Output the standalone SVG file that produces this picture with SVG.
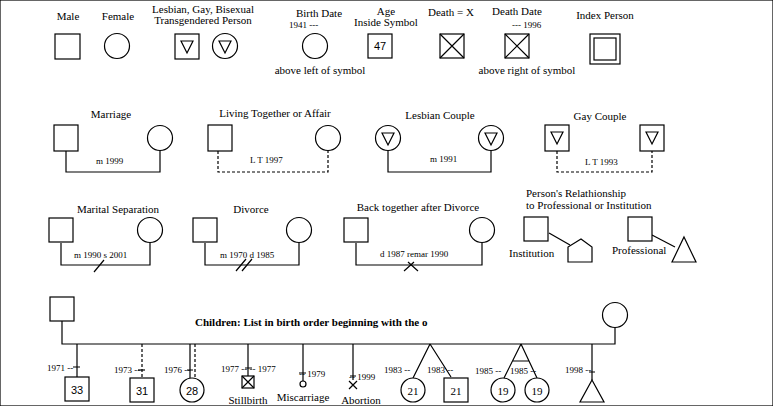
<svg xmlns="http://www.w3.org/2000/svg" width="773" height="406" viewBox="0 0 773 406">
<style>
text{font-family:"Liberation Serif","Times New Roman","DejaVu Serif",serif;font-size:11px;fill:#000}
.s{font-size:9px}
.b{font-weight:bold}
.c{text-anchor:middle}
rect,circle,polygon,path,line{fill:#fff;stroke:#000;stroke-width:1.2}
.d{stroke-dasharray:3,2;fill:none}
.n{fill:none}
</style>
<rect width="773" height="406" fill="#fff" stroke="none"/>
<g id="legend">
<g id="male"><text x="68" y="20" class="c">Male</text><rect x="55" y="34" width="25" height="25"/></g>
<g id="female"><text x="118" y="20" class="c">Female</text><circle cx="117" cy="46" r="12.5"/></g>
<g id="lgbt"><text x="203" y="13" class="c">Lesbian, Gay, Bisexual</text><text x="203" y="24" class="c">Transgendered Person</text>
<rect x="175" y="34" width="24" height="25"/><polygon points="181,41 193,41 187,53"/>
<circle cx="225" cy="46" r="12.5"/><polygon points="219,41 231,41 225,53"/></g>
<g id="birth"><text x="319" y="17" class="c">Birth Date</text><text x="289" y="28" class="s">1941 ---</text><circle cx="315" cy="46" r="12.5"/><text x="320" y="74" class="c">above left of symbol</text></g>
<g id="age"><text x="386" y="15" class="c">Age</text><text x="386" y="26" class="c">Inside Symbol</text><rect x="368" y="34" width="24" height="24"/><text x="380" y="50" class="c" style="font-family:'Liberation Sans',sans-serif;font-size:11px">47</text></g>
<g id="death"><text x="451" y="16" class="c">Death = X</text><rect x="440" y="34" width="24" height="24"/><path class="n" d="M440 34L464 58M464 34L440 58"/></g>
<g id="deathdate"><text x="517" y="15" class="c">Death Date</text><text x="512" y="28" class="s">--- 1996</text><rect x="505" y="34" width="24" height="24"/><path class="n" d="M505 34L529 58M529 34L505 58"/><text x="527" y="74" class="c">above right of symbol</text></g>
<g id="index"><text x="605" y="19" class="c">Index Person</text><rect x="590" y="34" width="30" height="30"/><rect x="594" y="38" width="22" height="22"/></g>
</g>
<g id="connectors">
<path class="n" d="M66 151V172H160V151"/>
<path class="d" d="M218 151V172H328V151"/>
<path class="n" d="M388 151V172H491V151"/>
<path class="d" d="M557 151V172H652V151"/>
<path class="n" d="M61 243V265H150V243"/>
<path class="n" d="M94 272L104 260"/>
<path class="n" d="M205 243V265H299V243"/>
<path class="n" d="M236 271L246 259M242 271L252 259"/>
<path class="n" d="M356 243V265H482V243"/>
<path class="n" d="M404 271L414 262M408 262L418 271"/>
<path class="n" d="M549 233L570 245"/>
<path class="n" d="M652 235L675 247"/>
<path class="n" d="M62 320V344H615V328"/>
<path class="n" d="M77 344V377M73 367H80"/>
<path class="d" d="M142 344V378"/><path class="n" d="M138 370H145"/>
<path class="n" d="M190 344V378M187 370H193"/><path class="d" d="M195 344V378"/>
<path class="n" d="M248 344V376M245 368H252"/>
<path class="n" d="M303 344V381M299 373H306"/>
<path class="n" d="M353 344V380M350 376H356"/>
<path class="n" d="M430 344L413 378M430 344L451 377"/>
<path class="n" d="M521 344L504 378M521 344L537 378M513 361H529"/>
<path class="n" d="M592 344V380M589 372H595"/>
</g>
<g id="marriage"><text x="111" y="118" class="c">Marriage</text><rect x="54" y="125" width="24" height="26"/><circle cx="160" cy="138" r="12.5"/><text x="96" y="164" class="s">m 1999</text></g>
<g id="lt"><text x="275" y="117" class="c">Living Together or Affair</text><rect x="208" y="125" width="24" height="26"/><circle cx="328" cy="138" r="12.5"/><text x="250" y="163" class="s">L T 1997</text></g>
<g id="lesbian"><text x="440" y="119" class="c">Lesbian Couple</text><circle cx="388" cy="138" r="12.5"/><polygon points="382,133 394,133 388,145"/><circle cx="491" cy="138" r="12.5"/><polygon points="485,133 497,133 491,145"/><text x="430" y="162" class="s">m 1991</text></g>
<g id="gay"><text x="600" y="120" class="c">Gay Couple</text><rect x="545" y="125" width="24" height="26"/><polygon points="551,132 563,132 557,144"/><rect x="640" y="125" width="24" height="26"/><polygon points="646,132 658,132 652,144"/><text x="585" y="165" class="s">L T 1993</text></g>
<g id="separation"><text x="118" y="213" class="c">Marital Separation</text><rect x="49" y="218" width="24" height="24"/><circle cx="150" cy="230" r="12.5"/><text x="74" y="258" class="s">m 1990 s 2001</text></g>
<g id="divorce"><text x="251" y="213" class="c">Divorce</text><rect x="193" y="218" width="24" height="24"/><circle cx="299" cy="230" r="12.5"/><text x="220" y="258" class="s">m 1970 d 1985</text></g>
<g id="backtogether"><text x="418" y="211" class="c">Back together after Divorce</text><rect x="344" y="218" width="24" height="24"/><circle cx="482" cy="230" r="12.5"/><text x="380" y="257" class="s">d 1987 remar 1990</text></g>
<g id="institution"><text x="526" y="197">Person's Relathionship</text><text x="526" y="209">to Professional or Institution</text><rect x="524" y="217" width="24" height="24"/><polygon points="581,239 592,247 592,262 568,262 568,247"/><text x="509" y="257">Institution</text></g>
<g id="professional"><rect x="628" y="217" width="24" height="24"/><polygon points="684,237 696,262 672,262"/><text x="612" y="254">Professional</text></g>
<g id="parents"><rect x="50" y="297" width="24" height="24"/><circle cx="615" cy="315" r="12.5"/><text x="195" y="326" class="b">Children: List in birth order beginning with the o</text></g>
<g id="children">
<text x="47" y="371" class="s">1971 --</text><rect x="65" y="377" width="24" height="24"/><text x="77" y="394" class="c" style="font-family:'Liberation Sans',sans-serif">33</text>
<text x="114" y="373" class="s">1973 --</text><rect x="130" y="378" width="24" height="24"/><text x="142" y="395" class="c" style="font-family:'Liberation Sans',sans-serif">31</text>
<text x="164" y="373" class="s">1976 --</text><circle cx="192" cy="390" r="12"/><text x="192" y="395" class="c" style="font-family:'Liberation Sans',sans-serif">28</text>
<text x="221" y="372" class="s">1977 --  -- 1977</text><rect x="242" y="376" width="12" height="12"/><path class="n" d="M242 376L254 388M254 376L242 388"/><text x="248" y="404" class="c">Stillbirth</text>
<text x="299" y="377" class="s">-- 1979</text><circle cx="303" cy="384" r="3"/><text x="303" y="401" class="c">Miscarriage</text>
<text x="349" y="380" class="s">-- 1999</text><path class="n" d="M349 381L357 389M357 381L349 389"/><text x="361" y="404" class="c">Abortion</text>
<text x="384" y="373" class="s">1983 --</text><circle cx="413" cy="390" r="12"/><text x="413" y="395" class="c">21</text>
<text x="427" y="373" class="s">1983 --</text><rect x="444" y="378" width="24" height="24"/><text x="456" y="395" class="c">21</text>
<text x="475" y="374" class="s">1985 --</text><text x="510" y="374" class="s">1985 --</text><circle cx="503" cy="390" r="12"/><text x="503" y="395" class="c">19</text><circle cx="537" cy="390" r="12"/><text x="537" y="395" class="c">19</text>
<text x="565" y="373" class="s">1998 --</text><polygon points="592,380 604,402 580,402"/>
</g>
</svg>
